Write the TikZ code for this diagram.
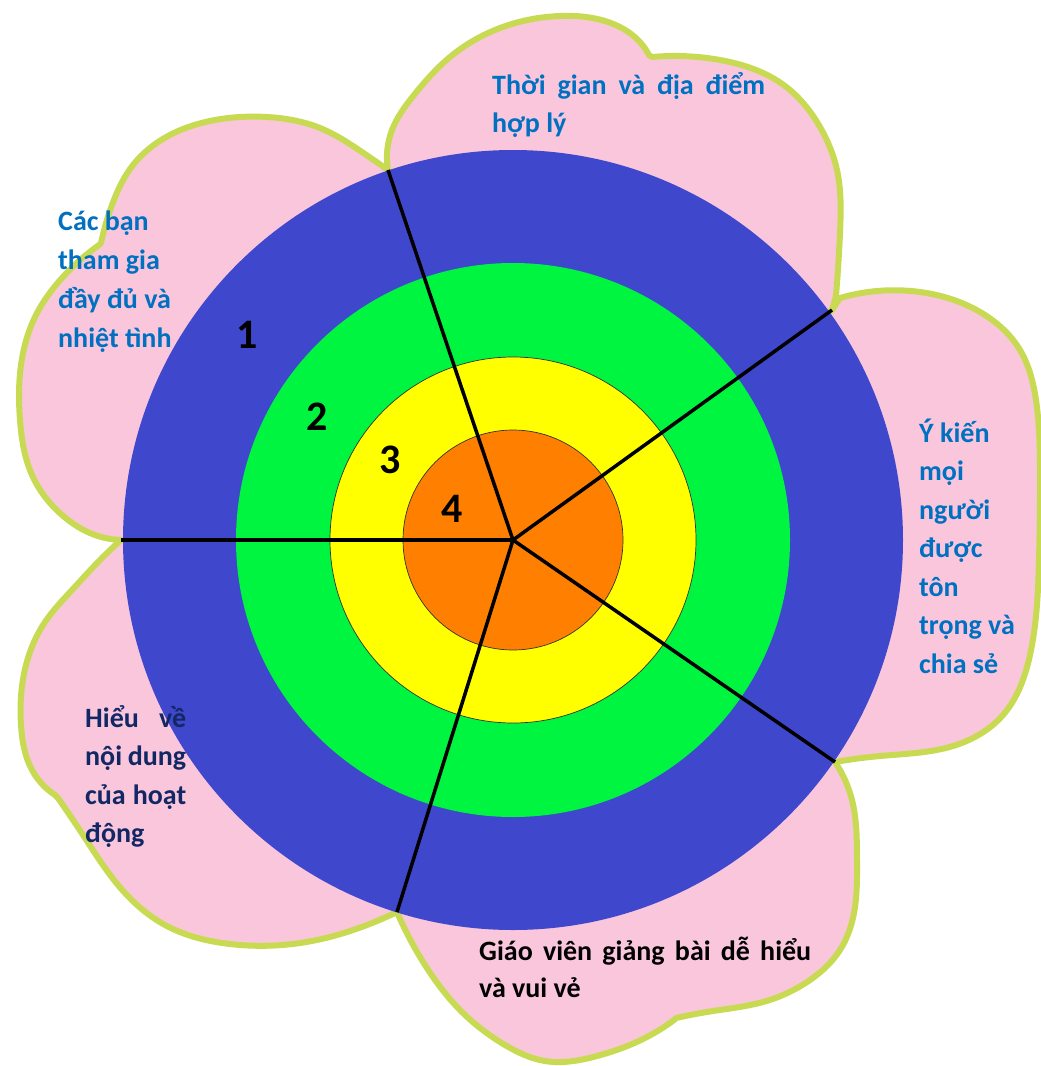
\documentclass[tikz,border=0pt]{standalone}
\usepackage{fontspec}
\setmainfont{Carlito}
\usetikzlibrary{hobby}
\definecolor{petalpink}{RGB}{250,198,220}
\definecolor{petalrim}{RGB}{200,218,82}
\definecolor{ringblue}{RGB}{63,72,204}
\definecolor{ringgreen}{RGB}{0,245,64}
\definecolor{ringyellow}{RGB}{255,255,0}
\definecolor{ringorange}{RGB}{255,128,0}
\definecolor{txtblue}{RGB}{0,112,192}
\definecolor{txtnavy}{RGB}{18,40,100}
\begin{document}
\begin{tikzpicture}[x=1pt,y=-1pt,
  petal/.style={fill=petalpink, draw=petalrim, line width=6pt, line join=round},
  ringline/.style={draw=black!80, line width=0.7pt},
  spoke/.style={draw=black, line width=3.5pt},
  lbl/.style={anchor=base west, inner sep=0pt, font=\fontsize{28}{32}\selectfont\bfseries},
  num/.style={anchor=base, inner sep=0pt, font=\fontsize{42}{44}\selectfont\bfseries, text=black}]
\useasboundingbox (0,0) rectangle (1041,1066);
\fill[white] (0,0) rectangle (1041,1066);
\coordinate (c) at (513,540);
\coordinate (s1) at (388,170);
\coordinate (s2) at (832,310);
\coordinate (s3) at (121,540);
\coordinate (s4) at (835,762);
\coordinate (s5) at (397,912);
% petals
\path[petal] (c) -- (s1)
  to[curve through={(362,152) (320,128) (267,117) (215,120) (168,136) (133,165) (112,205)}] (101,243)
  -- (99,245)
  to[curve through={(62,278) (36,315) (21,365) (20,420) (32,475) (62,515) (95,535)}] (s3) -- cycle;
\path[petal] (c) -- (s1)
  to[curve through={(392,130) (414,95) (450,57) (500,28) (560,16) (608,22) (638,40)}] (649,55)
  -- (652,57)
  to[curve through={(720,60) (785,86) (820,127) (837,170) (840,233)}] (836,296) -- (s2) -- cycle;
\path[petal] (c) -- (s2) -- (840,298)
  to[curve through={(920,292) (985,315) (1020,350) (1036,400) (1040,470) (1039,560) (1030,655) (1003,715) (953,746) (880,756)}] (s4) -- cycle;
\path[petal] (c) -- (s4)
  to[curve through={(852,800) (857,860) (854,913) (840,950) (810,980) (763,1002) (713,1011)}] (676,1018)
  -- (674,1020)
  to[curve through={(645,1038) (597,1056) (545,1061) (505,1045) (463,1013) (425,965)}] (s5) -- cycle;
\path[petal] (c) -- (s5)
  to[curve through={(367,925) (300,943) (230,944) (165,925) (118,885) (85,838)}] (58,798)
  -- (55,795)
  to[curve through={(32,770) (21,725) (26,665) (45,622) (72,590) (100,560)}] (s3) -- cycle;
% rings
\fill[ringblue] (c) circle[radius=390pt];
\fill[ringgreen] (c) circle[radius=277pt];
\filldraw[fill=ringyellow, ringline] (c) circle[radius=183pt];
\filldraw[fill=ringorange, ringline] (c) circle[radius=110pt];
% spokes
\draw[spoke] (c) -- (s1);
\draw[spoke] (c) -- (s2);
\draw[spoke] (c) -- (s3);
\draw[spoke] (c) -- (s4);
\draw[spoke] (c) -- (s5);
% numbers
\node[num] (n1) at (247,348) {1};
\node[num] (n2) at (317,430) {2};
\node[num] (n3) at (390,473) {3};
\node[num] (n4) at (452,522) {4};
% top petal text
\node[lbl, text=txtblue] (t1a) at (492,94) {\makebox[273pt][s]{Thời gian và địa điểm}};
\node[lbl, text=txtblue] (t1b) at (492,132) {hợp lý};
% upper left text
\node[lbl, text=txtblue] (t2a) at (58,230) {Các bạn};
\node[lbl, text=txtblue] (t2b) at (58,269) {tham gia};
\node[lbl, text=txtblue] (t2c) at (58,308) {đầy đủ và};
\node[lbl, text=txtblue] (t2d) at (58,347) {nhiệt tình};
% right text
\node[lbl, text=txtblue] (t3a) at (919,442) {Ý kiến};
\node[lbl, text=txtblue] (t3b) at (919,480.5) {mọi};
\node[lbl, text=txtblue] (t3c) at (919,519) {người};
\node[lbl, text=txtblue] (t3d) at (919,557.5) {được};
\node[lbl, text=txtblue] (t3e) at (919,596) {tôn};
\node[lbl, text=txtblue] (t3f) at (919,634.5) {trọng và};
\node[lbl, text=txtblue] (t3g) at (919,673) {chia sẻ};
% lower left text
\node[lbl, text=txtnavy] (t4a) at (85,727) {\makebox[101pt][s]{Hiểu về}};
\node[lbl, text=txtnavy] (t4b) at (85,765.5) {\makebox[101pt][s]{nội dung}};
\node[lbl, text=txtnavy] (t4c) at (85,804) {\makebox[101pt][s]{của hoạt}};
\node[lbl, text=txtnavy] (t4d) at (85,842.5) {động};
% bottom text
\node[lbl, text=black] (t5a) at (479,960) {\makebox[332pt][s]{Giáo viên giảng bài dễ hiểu}};
\node[lbl, text=black] (t5b) at (479,997) {và vui vẻ};
\end{tikzpicture}
\end{document}
